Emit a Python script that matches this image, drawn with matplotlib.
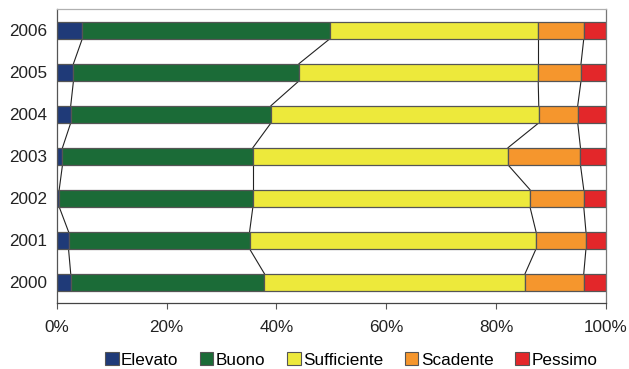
import numpy as np
import matplotlib
matplotlib.use("Agg")
import matplotlib.pyplot as plt
from matplotlib.patches import Patch

plt.rcParams['font.family'] = ['Liberation Sans', 'DejaVu Sans']

years = ['2000', '2001', '2002', '2003', '2004', '2005', '2006']
classes = ['Elevato', 'Buono', 'Sufficiente', 'Scadente', 'Pessimo']
colors = ['#1f3a78', '#1b6b37', '#ede93b', '#f5962d', '#e3272a']

# share of each quality class per year (%)
elevato     = [2.5, 2.1, 0.4, 1.0, 2.5, 3.0, 4.6]
buono       = [35.3, 33.0, 35.3, 34.7, 36.5, 41.1, 45.1]
sufficiente = [47.5, 52.2, 50.5, 46.5, 48.8, 43.6, 38.0]
scadente    = [10.7, 9.1, 9.8, 13.2, 7.1, 7.8, 8.3]
pessimo     = [4.0, 3.6, 4.0, 4.6, 5.1, 4.5, 4.0]

series = [elevato, buono, sufficiente, scadente, pessimo]

fig = plt.figure(figsize=(6.29, 3.69), dpi=100)
ax = fig.add_axes([57 / 629, 1 - 303.3 / 369, (605.7 - 57) / 629, (303.3 - 9.3) / 369])

y = np.arange(len(years))
h = 0.41
left = np.zeros(len(years))
for vals, col, name in zip(series, colors, classes):
    v = np.array(vals)
    ax.barh(y, v, left=left, height=h, color=col, edgecolor='#555555',
            linewidth=0.9, label=name, zorder=2)
    left = left + v
    # series lines joining each boundary between consecutive years
    if name != classes[-1]:
        for i in range(len(years) - 1):
            ax.plot([left[i], left[i + 1]], [y[i] + h / 2, y[i + 1] - h / 2],
                    color='#222222', linewidth=0.8, zorder=1)

ax.set_xlim(0, 100)
ax.set_ylim(-0.5, len(years) - 0.5)
ax.set_yticks(y)
ax.set_yticklabels(years, fontsize=12.3, color='#222222')
ax.set_xticks(np.arange(0, 101, 20))
ax.set_xticklabels([f'{t}%' for t in range(0, 101, 20)], fontsize=12.3, color='#222222')
ax.tick_params(axis='y', length=0, pad=7)
ax.tick_params(axis='x', length=4, width=0.8, color='#555555', pad=8, direction='out')

ax.spines['left'].set_color('#555555')
ax.spines['bottom'].set_color('#444444')
ax.spines['top'].set_color('#b0b0b0')
ax.spines['right'].set_color('#777777')
for s in ax.spines.values():
    s.set_linewidth(0.9)

handles = [Patch(facecolor=c, edgecolor='#555555', linewidth=0.8) for c in colors]
fig.legend(handles, classes, loc='center', bbox_to_anchor=(351 / 629, 1 - 360 / 369),
           ncol=5, frameon=False, fontsize=12.3, handlelength=0.8, handleheight=0.8,
           handletextpad=0.15, columnspacing=1.25, borderaxespad=0)

fig.savefig('out.png', dpi=100)
